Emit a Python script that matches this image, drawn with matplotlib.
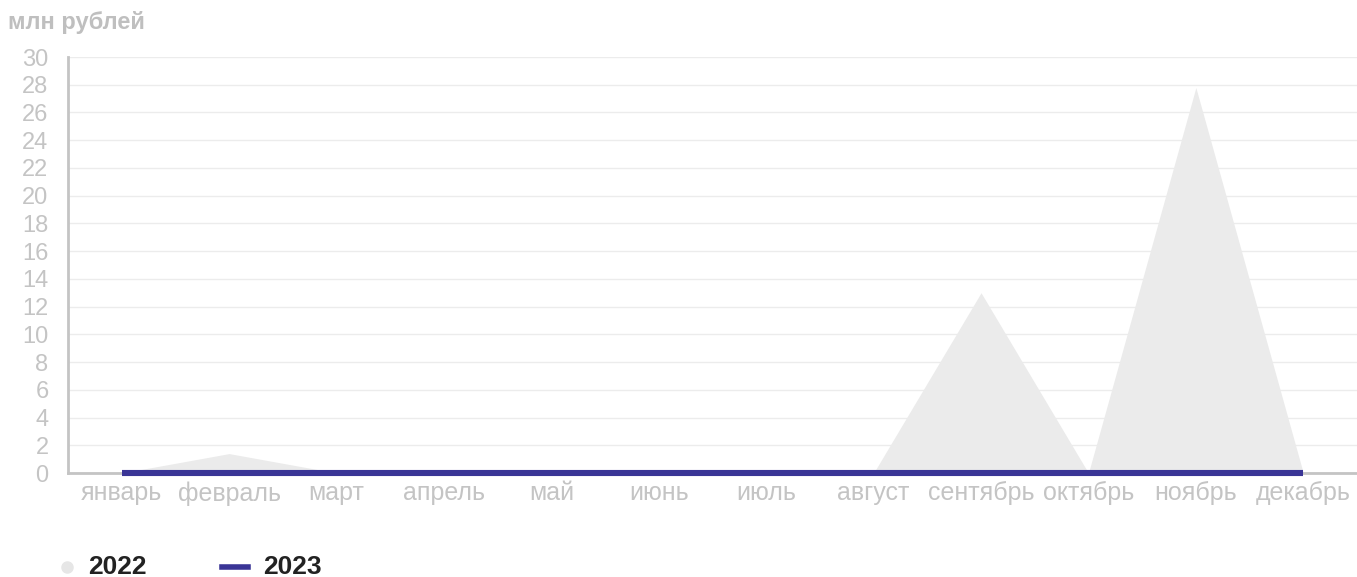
import matplotlib
matplotlib.use("Agg")
import matplotlib.pyplot as plt
from matplotlib.lines import Line2D

# Дані з графіка
months = ["январь", "февраль", "март", "апрель", "май", "июнь",
          "июль", "август", "сентябрь", "октябрь", "ноябрь", "декабрь"]
values_2022 = [0, 1.4, 0, 0, 0, 0, 0, 0, 13.0, 0, 27.8, 0]
values_2023 = [0, 0, 0, 0, 0, 0, 0, 0, 0, 0, 0, 0]
y_ticks = list(range(0, 31, 2))

plt.rcParams["font.family"] = ["Liberation Sans", "DejaVu Sans"]

W, H = 1357, 577
fig = plt.figure(figsize=(W / 100, H / 100), dpi=100)
ax = fig.add_axes([68 / W, 1 - 473 / H, 1 - 68 / W, (473 - 57) / H])

x = list(range(len(months)))
ax.fill_between(x, values_2022, 0, color="#ebebeb", linewidth=0, zorder=2)
ax.plot(x, values_2023, color="#3a3596", linewidth=4.4, solid_capstyle="butt",
        zorder=4, clip_on=False)

ax.set_xlim(-0.5, 11.5)
ax.set_ylim(0, 30)
ax.set_yticks(y_ticks)
ax.set_xticks(x)
ax.set_xticklabels(months)
ax.tick_params(axis="both", length=0, labelcolor="#c4c4c4")
ax.tick_params(axis="x", pad=6, labelsize=18)
ax.tick_params(axis="y", pad=14, labelsize=17)

ax.grid(axis="y", color="#ececec", linewidth=1, zorder=0)
ax.set_axisbelow(True)
for side in ["top", "right"]:
    ax.spines[side].set_visible(False)
for side in ["left", "bottom"]:
    ax.spines[side].set_color("#c4c4c4")
    ax.spines[side].set_linewidth(2)

fig.text(8 / W, 1 - 23 / H, "млн рублей", fontsize=17, fontweight="bold",
         color="#bfbfbf", va="center", ha="left")

# Llegenda manual a la part inferior
ly = 1 - 567 / H
fig.add_artist(Line2D([67 / W], [ly], marker="o", markersize=8, linestyle="none",
                      markerfacecolor="#e6e6e6", markeredgecolor="#e6e6e6",
                      transform=fig.transFigure))
fig.text(88 / W, ly, "2022", fontsize=19, fontweight="bold", color="#222222",
         va="center", ha="left")
fig.add_artist(Line2D([222 / W, 248 / W], [ly, ly], color="#3a3596", linewidth=4,
                      transform=fig.transFigure))
fig.text(263 / W, ly, "2023", fontsize=19, fontweight="bold", color="#222222",
         va="center", ha="left")

fig.savefig("out.png", dpi=100)
